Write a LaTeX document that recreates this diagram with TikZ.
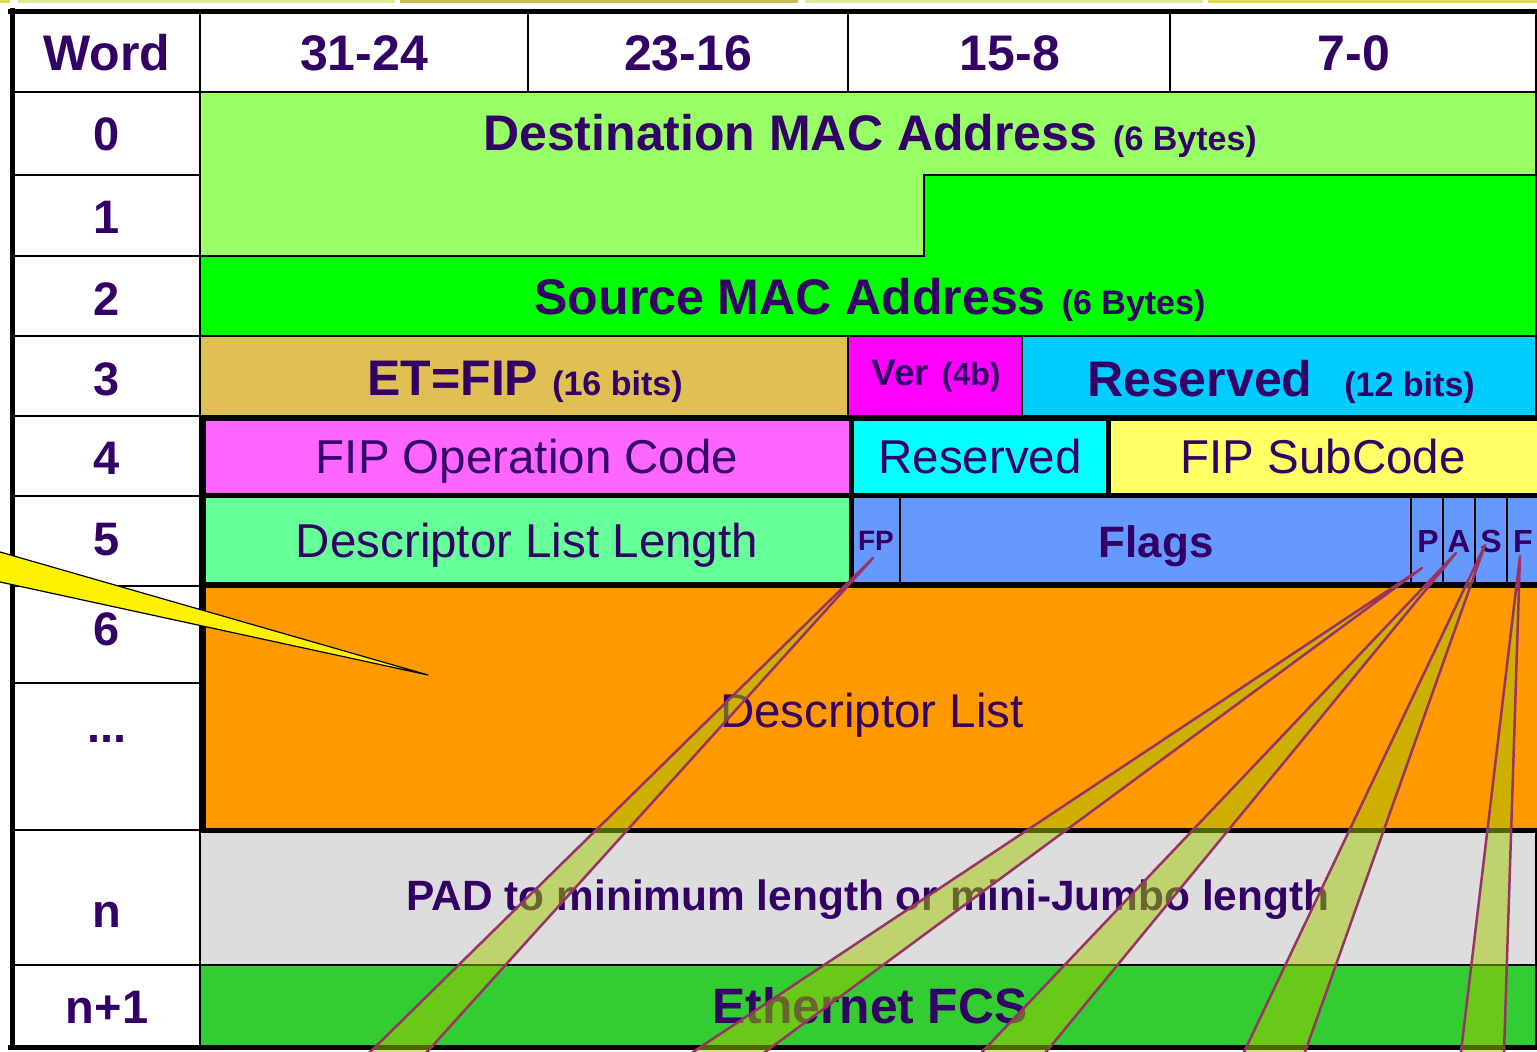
\documentclass[tikz,border=0pt]{standalone}
\usepackage{fontspec}
\setmainfont{Liberation Sans}
\usetikzlibrary{calc}
\definecolor{ink}{RGB}{51,0,102}
\definecolor{dstgreen}{RGB}{153,255,102}
\definecolor{srcgreen}{RGB}{0,255,0}
\definecolor{ethgold}{RGB}{224,192,82}
\definecolor{vermag}{RGB}{255,0,255}
\definecolor{rsvblue}{RGB}{0,204,255}
\definecolor{oppink}{RGB}{255,102,255}
\definecolor{rsvcyan}{RGB}{0,255,255}
\definecolor{subyel}{RGB}{255,255,102}
\definecolor{dllgreen}{RGB}{102,255,153}
\definecolor{flagblue}{RGB}{102,153,255}
\definecolor{dlorange}{RGB}{255,153,0}
\definecolor{padgrey}{RGB}{221,221,221}
\definecolor{fcsgreen}{RGB}{51,204,51}
\definecolor{wedgefill}{RGB}{160,200,0}
\definecolor{wedgeline}{RGB}{153,51,102}
\definecolor{stripA}{RGB}{226,232,154}
\definecolor{stripB}{RGB}{201,188,85}
\definecolor{stripC}{RGB}{221,221,85}
\newcommand\fsz[1]{\fontsize{#1}{#1}\selectfont}
\begin{document}
\begin{tikzpicture}[x=1pt,y=-1pt,
  lbl/.style={inner sep=0pt, anchor=base, text=ink, font=\bfseries\fsz{50}},
  rowno/.style={lbl, font=\bfseries\fsz{47}},
  plain/.style={inner sep=0pt, anchor=base, text=ink, font=\fsz{47.5}},
  thincell/.style={draw=black, line width=2pt},
  thickcell/.style={draw=black, line width=5pt},
  divider/.style={draw=black, line width=1.5pt},
  wedge/.style={fill=wedgefill, fill opacity=0.5, draw=wedgeline, line width=2.5pt, line join=round},
  pointer/.style={fill=yellow, draw=black, line width=1.2pt, line join=round}]
\useasboundingbox (0,0) rectangle (1537,1052);
\fill[white] (0,0) rectangle (1537,1052);

% thin coloured strips along the top edge
\fill[stripC] (0,0) rectangle (10,2.5);
\fill[stripA] (18,0) rectangle (395,2.5);
\fill[stripB] (400,0) rectangle (798,3);
\fill[stripA] (805,0) rectangle (1203,2.5);
\fill[stripC] (1208,0) rectangle (1537,3);

% word column
\foreach \ya/\yb in {12/92,92/175,175/256,256/336,336/416,416/496,496/586,586/683,683/830,830/965,965/1046}
  \draw[thincell, fill=white] (13,\ya) rectangle (200,\yb);

% header row
\foreach \xa/\xb in {200/528,528/848,848/1170,1170/1536}
  \draw[thincell, fill=white] (\xa,12) rectangle (\xb,92);

% words 0-2: destination and source MAC addresses
\draw[thincell, fill=dstgreen] (200,92) -- (1536,92) -- (1536,175) -- (924,175) -- (924,256) -- (200,256) -- cycle;
\draw[thincell, fill=srcgreen] (924,175) -- (1536,175) -- (1536,336) -- (200,336) -- (200,256) -- (924,256) -- cycle;

% word 3
\draw[thincell, fill=ethgold] (200,336) rectangle (848,416);
\draw[thincell, fill=vermag] (848,336) rectangle (1022,416);
\draw[thincell, fill=rsvblue] (1022,336) rectangle (1536,416);

% word n and n+1
\draw[thincell, fill=padgrey] (200,830) rectangle (1536,965);
\draw[thincell, fill=fcsgreen] (200,965) rectangle (1536,1046);

% words 4-6 with heavy borders
\draw[thickcell, fill=oppink] (203,418) rectangle (851,495);
\draw[thickcell, fill=rsvcyan] (851,418) rectangle (1108,495);
\draw[thickcell, fill=subyel] (1108,418) rectangle (1542,495);
\draw[thickcell, fill=dllgreen] (203,495) rectangle (851,584);
\draw[thickcell, fill=flagblue] (851,495) rectangle (1542,584);
\foreach \xd in {900,1411,1443,1475,1507}
  \draw[divider] (\xd,497.5) -- (\xd,581.5);
\draw[thickcell, fill=dlorange] (203,585) rectangle (1542,830);

% outer frame
\draw[line width=5pt] (8,11) -- (1537,11);
\draw[line width=5pt] (12.5,8) -- (12.5,1050);
\draw[line width=5pt] (8,1047.5) -- (1537,1047.5);

% header labels
\node[lbl] (hword) at (107,70) {Word};
\node[lbl] (hb3) at (364,70) {31-24};
\node[lbl] (hb2) at (688,70) {23-16};
\node[lbl] (hb1) at (1010,70) {15-8};
\node[lbl] (hb0) at (1354,70) {7-0};

% word numbers
\node[rowno] (w0) at (107,150) {0};
\node[rowno] (w1) at (107,233) {1};
\node[rowno] (w2) at (107,315) {2};
\node[rowno] (w3) at (107,395) {3};
\node[rowno] (w4) at (107,474) {4};
\node[rowno] (w5) at (107,555) {5};
\node[rowno] (w6) at (107,645) {6};
\node[rowno] (wdots) at (107,742) {...};
\node[rowno] (wn) at (107,927) {n};
\node[rowno] (wn1) at (107,1023) {n+1};

% field labels
\node[lbl] (dstmac) at (870,150) {Destination MAC Address\hspace{16pt}{\fsz{34}(6 Bytes)}};
\node[lbl] (srcmac) at (870,314) {Source MAC Address\hspace{16pt}{\fsz{34}(6 Bytes)}};
\node[lbl] (ethtype) at (525,395) {ET=FIP\hspace{14pt}{\fsz{34}(16 bits)}};
\node[lbl, font=\bfseries\fsz{37}] (ver) at (936,385) {Ver\hspace{13pt}{\fsz{32}(4b)}};
\node[lbl] (rsv12) at (1281,396) {Reserved\hspace{32pt}{\fsz{34}(12 bits)}};
\node[plain] (opcode) at (527,473) {FIP Operation Code};
\node[plain] (rsv) at (980,473) {Reserved};
\node[plain] (subcode) at (1323,473) {FIP SubCode};
\node[plain] (dllen) at (527,557) {Descriptor List Length};
\node[lbl, font=\bfseries\fsz{28}] (fp) at (876,550) {FP};
\node[lbl, font=\bfseries\fsz{44}] (flags) at (1156,557) {Flags};
\node[lbl, font=\bfseries\fsz{32}] (fP) at (1428,552) {P};
\node[lbl, font=\bfseries\fsz{32}] (fA) at (1459,552) {A};
\node[lbl, font=\bfseries\fsz{32}] (fS) at (1491,552) {S};
\node[lbl, font=\bfseries\fsz{32}] (fF) at (1523,552) {F};
\node[plain] (dlist) at (872,727) {Descriptor List};
\node[lbl, font=\bfseries\fsz{42.4}] (pad) at (868,910) {PAD to minimum length or mini-Jumbo length};
\node[lbl, font=\bfseries\fsz{49.7}] (fcs) at (870,1023) {Ethernet FCS};

% callout wedges
\coordinate (yTip) at (428,675);
\coordinate (yTop) at (0,552);
\coordinate (yBot) at (0,582);
\coordinate (fpTip) at (873,558);
\coordinate (fpL) at (370,1052);
\coordinate (fpR) at (427,1052);
\coordinate (pTip) at (1422,568);
\coordinate (pL) at (693,1052);
\coordinate (pR) at (765,1052);
\coordinate (aTip) at (1456,553);
\coordinate (aL) at (982,1052);
\coordinate (aR) at (1046,1052);
\coordinate (sTip) at (1485,545);
\coordinate (sL) at (1244,1052);
\coordinate (sR) at (1305,1052);
\coordinate (fTip) at (1520,556);
\coordinate (fL) at (1461,1052);
\coordinate (fR) at (1504,1052);
\begin{scope}
  \clip (0,0) rectangle (1537,1052);
  \draw[pointer] (yTip) -- ($(yTip)!1.2!(yTop)$) -- ($(yTip)!1.2!(yBot)$) -- cycle;
  \foreach \w in {fp,p,a,s,f}
    \draw[wedge] (\w Tip) -- ($(\w Tip)!1.2!(\w L)$) -- ($(\w Tip)!1.2!(\w R)$) -- cycle;
\end{scope}
\end{tikzpicture}
\end{document}
